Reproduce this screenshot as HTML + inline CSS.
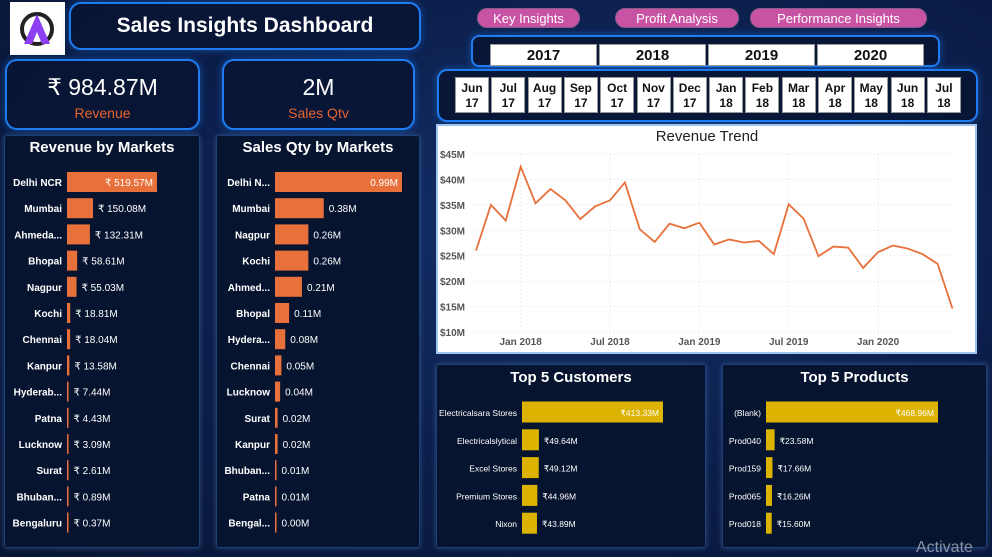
<!DOCTYPE html>
<html><head><meta charset="utf-8"><style>
*{box-sizing:border-box;margin:0;padding:0}
body{width:992px;height:557px;overflow:hidden;background:radial-gradient(ellipse at 60% 40%,#13306a 0%,#0b1e4a 55%,#081634 100%);font-family:"Liberation Sans","DejaVu Sans",sans-serif;position:relative;color:#fff}
.abs{position:absolute}
.box{position:absolute;border:2px solid #1e7cf0;border-radius:12px;background:rgba(8,20,50,0.85);box-shadow:0 0 8px rgba(30,124,240,.5)}
.panel{position:absolute;background:#07142f;border:1px solid #1b3f7a;border-radius:3px;box-shadow:0 0 6px rgba(120,160,220,.35)}
.ptitle{position:absolute;left:0;right:0;text-align:center;font-weight:bold;font-size:15px;color:#fff}
.nav{position:absolute;height:20px;border-radius:10px;background:#c853a5;color:#fff;font-size:13px;text-align:center;line-height:19px;border:1px solid #8a5a8a}
.yc{position:absolute;top:44px;height:22px;width:107px;background:#fff;border:1px solid #999;color:#111;font-weight:bold;font-size:15px;text-align:center;line-height:22px}
.mc{position:absolute;top:77px;height:36px;width:34px;background:#fff;border:1px solid #999;color:#111;font-weight:bold;font-size:12px;text-align:center;line-height:15px;padding-top:3px}
svg text{font-family:"Liberation Sans",sans-serif}
</style></head><body>
<div class="abs" style="left:10px;top:2px;width:55px;height:53px;background:#fff">
<svg width="55" height="53"><circle cx="27" cy="27" r="15" fill="none" stroke="#222" stroke-width="4"/><polygon points="27,12 14,42 22,42 27,30 32,42 40,42" fill="#8b3ff0"/></svg></div>
<div class="box" style="left:69px;top:2px;width:352px;height:48px;text-align:center;line-height:44px;font-weight:bold;font-size:21px">Sales Insights Dashboard</div>
<div class="box" style="left:5px;top:59px;width:195px;height:71px;text-align:center">
<div style="font-size:23px;margin-top:13px">₹ 984.87M</div>
<div style="font-size:14px;color:#e8642f;margin-top:4px">Revenue</div></div>
<div class="box" style="left:222px;top:59px;width:193px;height:71px;text-align:center">
<div style="font-size:23px;margin-top:13px">2M</div>
<div style="font-size:14px;color:#e8642f;margin-top:4px">Sales Qtv</div></div>

<div class="nav" style="left:477px;top:8px;width:103px">Key Insights</div>
<div class="nav" style="left:615px;top:8px;width:124px">Profit Analysis</div>
<div class="nav" style="left:750px;top:8px;width:177px">Performance Insights</div>

<div class="box" style="left:471px;top:35px;width:469px;height:32px;border-radius:8px"></div>
<div class="box" style="left:437px;top:69px;width:541px;height:53px;border-radius:10px"></div>
<div id="slicers"></div>

<div class="panel" style="left:4px;top:135px;width:196px;height:413px"><div class="ptitle" style="top:3px">Revenue by Markets</div></div>
<div class="panel" style="left:216px;top:135px;width:204px;height:413px"><div class="ptitle" style="top:3px">Sales Qty by Markets</div></div>
<div class="abs" style="left:436px;top:124px;width:541px;height:230px;background:#fff;border:2px solid #9ec5f0"></div>
<div class="panel" style="left:436px;top:364px;width:270px;height:184px"><div class="ptitle" style="top:4px">Top 5 Customers</div></div>
<div class="panel" style="left:722px;top:364px;width:265px;height:184px"><div class="ptitle" style="top:4px">Top 5 Products</div></div>
<div class="abs" style="left:916px;top:539px;font-size:16px;color:#8a94a8">Activate</div>

<svg id="chart" class="abs" style="left:0;top:0" width="992" height="557"></svg>
<script>
const years=["2017","2018","2019","2020"];
const months=["Jun|17","Jul|17","Aug|17","Sep|17","Oct|17","Nov|17","Dec|17","Jan|18","Feb|18","Mar|18","Apr|18","May|18","Jun|18","Jul|18"];
const revMarkets=["Delhi NCR","Mumbai","Ahmeda...","Bhopal","Nagpur","Kochi","Chennai","Kanpur","Hyderab...","Patna","Lucknow","Surat","Bhuban...","Bengaluru"];
const revValues=[519.57,150.08,132.31,58.61,55.03,18.81,18.04,13.58,7.44,4.43,3.09,2.61,0.89,0.37];
const qtyMarkets=["Delhi N...","Mumbai","Nagpur","Kochi","Ahmed...","Bhopal","Hydera...","Chennai","Lucknow","Surat","Kanpur","Bhuban...","Patna","Bengal..."];
const qtyValues=[0.99,0.38,0.26,0.26,0.21,0.11,0.08,0.05,0.04,0.02,0.02,0.01,0.01,0.00];
const custNames=["Electricalsara Stores","Electricalslytical","Excel Stores","Premium Stores","Nixon"];
const custValues=[413.33,49.64,49.12,44.96,43.89];
const prodNames=["(Blank)","Prod040","Prod159","Prod065","Prod018"];
const prodValues=[468.96,23.58,17.66,16.26,15.60];
const trendValues=[26.0,35.0,31.9,42.5,35.3,38.1,35.9,32.2,34.7,35.9,39.4,30.2,27.7,31.3,30.4,31.5,27.2,28.2,27.6,27.9,25.3,35.1,32.3,24.9,26.8,26.6,22.6,25.7,27.0,26.4,25.3,23.4,14.6];
const yTicks=[10,15,20,25,30,35,40,45];
const xTicks=[["Jan 2018",3],["Jul 2018",9],["Jan 2019",15],["Jul 2019",21],["Jan 2020",27]];

const NS="http://www.w3.org/2000/svg";
const svg=document.getElementById('chart');
function mk(tag,attrs,parent){const e=document.createElementNS(NS,tag);for(const k in attrs)e.setAttribute(k,attrs[k]);(parent||svg).appendChild(e);return e;}
function txt(s,attrs){const t=mk('text',attrs);t.textContent=s;return t;}

const sl=document.getElementById('slicers');
years.forEach((y,i)=>{const d=document.createElement('div');d.className='yc';d.style.left=(490+i*109)+'px';d.textContent=y;


sl.appendChild(d);});
months.forEach((m,i)=>{const d=document.createElement('div');d.className='mc';d.style.left=(455+i*36.3)+'px';const p=m.split('|');d.innerHTML=p[0]+'<br>'+p[1];


sl.appendChild(d);});

function hbars(names,vals,x0,pxMax,vmax,yc,gap,bh,color,fmt,lblSize,valSize,prefix,bold){
  names.forEach((n,i)=>{
    const y=yc+i*gap;const w=Math.max(vals[i]/vmax*pxMax,1.5);
    const l=txt(n,{x:x0-5,y:y+4,'text-anchor':'end',fill:'#fff','font-size':lblSize,'font-weight':bold?'bold':'normal'});
    
    
    const r=mk('rect',{x:x0,y:y-bh/2,width:w,height:bh,fill:color});
    
    
    const s=fmt(vals[i]);
    const inside=w>pxMax*0.6;
    const v=txt(s,{x:inside?x0+w-4:x0+w+5,y:y+4,'text-anchor':inside?'end':'start',fill:'#fff','font-size':valSize});
    
    
  });
}
hbars(revMarkets,revValues,67,90,519.57,182,26.2,20,'#e8703a',v=>'₹ '+v.toFixed(2)+'M',10,10,'revenue-market',true);
hbars(qtyMarkets,qtyValues,275,127,0.99,182,26.2,20,'#e8703a',v=>v.toFixed(2)+'M',10,10,'qty-market',true);
hbars(custNames,custValues,522,141,413.33,412,27.8,21,'#dbb300',v=>'₹'+v.toFixed(2)+'M',8.5,8.5,'customer',false);
hbars(prodNames,prodValues,766,172,468.96,412,27.8,21,'#dbb300',v=>'₹'+v.toFixed(2)+'M',8.5,8.5,'product',false);

const X0=476,DX=14.89,YT=154,YB=332,VMIN=10,VMAX=45;
const xs=i=>X0+i*DX, ys=v=>YB-(v-VMIN)/(VMAX-VMIN)*(YB-YT);
const tt=txt('Revenue Trend',{x:707,y:141,'text-anchor':'middle',fill:'#222','font-size':15});


yTicks.forEach(v=>{
  const g=mk('line',{x1:474,x2:958,y1:ys(v),y2:ys(v),stroke:'#ddd','stroke-dasharray':'1,3'});
  
  
  const t=txt('$'+v+'M',{x:440,y:ys(v)+4,fill:'#555','font-size':10,'font-weight':'bold'});
  
  
});
xTicks.forEach(([s,i])=>{
  const g=mk('line',{x1:xs(i),x2:xs(i),y1:YT,y2:YB,stroke:'#ddd','stroke-dasharray':'1,3'});
  
  
  const t=txt(s,{x:xs(i),y:345,'text-anchor':'middle',fill:'#555','font-size':10,'font-weight':'bold'});
  
  
});
const pl=mk('polyline',{points:trendValues.map((v,i)=>xs(i)+','+ys(v)).join(' '),fill:'none',stroke:'#e8703a','stroke-width':1.8});


</script>
</body></html>
